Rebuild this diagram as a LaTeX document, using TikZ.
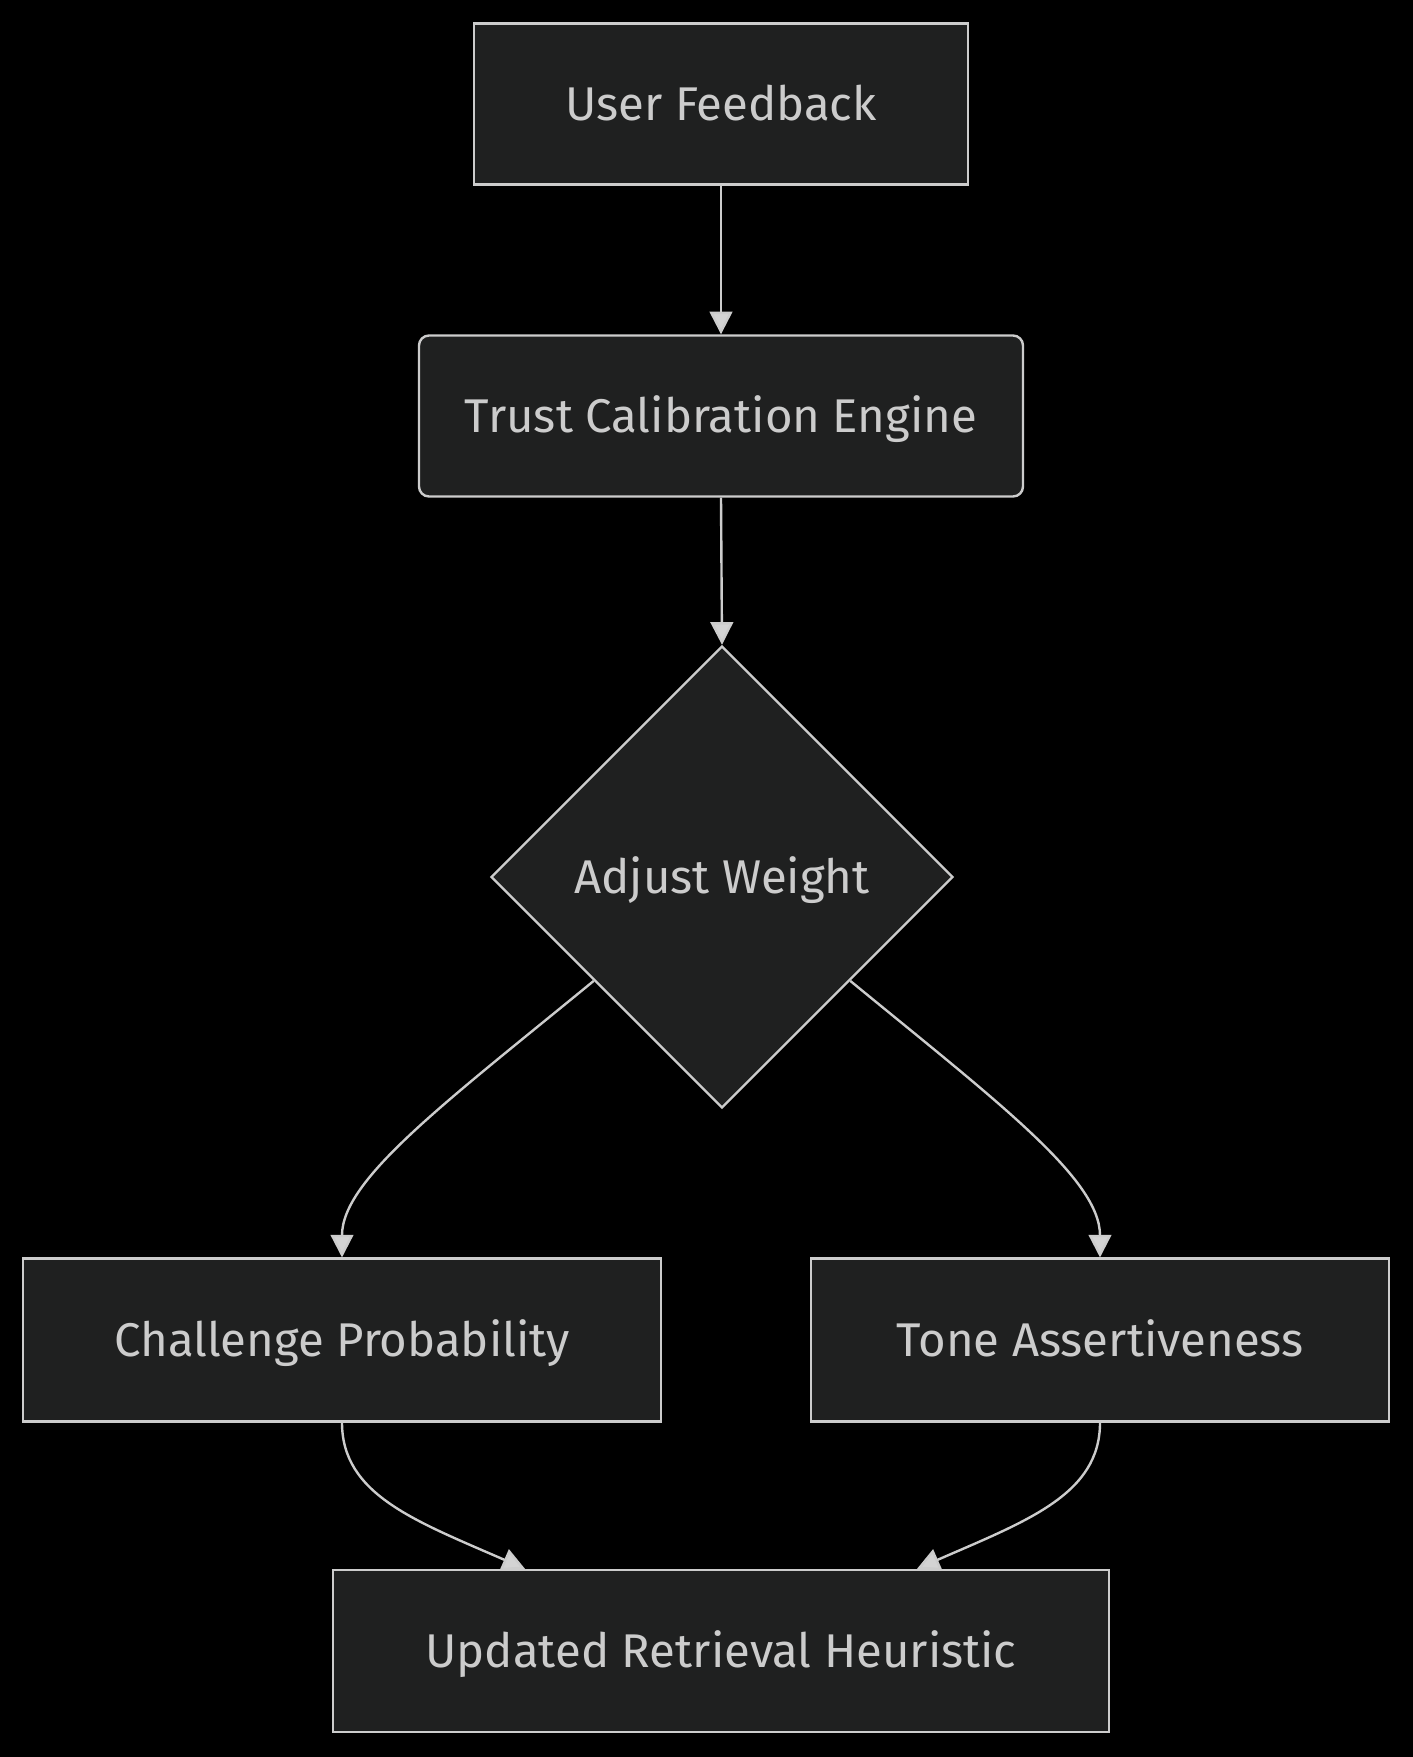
\documentclass[tikz,border=0pt]{standalone}
\usepackage{fontspec}
\setmainfont{Fira Sans}
\usetikzlibrary{shapes.geometric,arrows.meta,calc}
\definecolor{nodefill}{HTML}{1F2020}
\definecolor{strk}{HTML}{CCCCCC}
\definecolor{arr}{HTML}{D3D3D3}
\begin{document}
\begin{tikzpicture}[x=0.75pt,y=-0.75pt,
  box/.style={draw=strk, line width=1.8pt, fill=nodefill, text=strk,
    font=\fontsize{35.5}{42}\selectfont, inner sep=0pt, text height=24.5pt, text depth=0pt},
  dec/.style={box, diamond, aspect=1, minimum width=346.5pt, minimum height=346.5pt},
  edge/.style={draw=strk, line width=1.8pt, -{Triangle[length=17pt,width=17pt,fill=arr]}}]
\useasboundingbox[fill=black] (0,0) rectangle (1413,1757);
\node[box, minimum width=370.5pt, minimum height=120.75pt] (uf) at (721,104) {User Feedback};
\node[box, rounded corners=7.5pt, minimum width=453pt, minimum height=120.75pt] (tce) at (721,416) {Trust Calibration Engine};
\node[dec] (aw) at (722,877) {Adjust Weight};
\node[box, minimum width=478.5pt, minimum height=122pt] (cp) at (342,1340) {Challenge Probability};
\node[box, minimum width=433.5pt, minimum height=122pt] (ta) at (1100,1340) {Tone Assertiveness};
\node[box, minimum width=582pt, minimum height=121.5pt] (urh) at (721,1651) {Updated Retrieval Heuristic};
\draw[edge] (uf.south) -- (tce.north);
\draw[edge] (tce.south) -- (aw.north);
\draw[edge] (aw.219) .. controls +(-150,123) and +(0,-78) .. (cp.north);
\draw[edge] (aw.321) .. controls +(150,123) and +(0,-78) .. (ta.north);
\coordinate (inL) at ($(urh.north)+(-196,0)$);
\coordinate (inR) at ($(urh.north)+(196,0)$);
\draw[edge] (cp.south) .. controls +(0,72) and +(-110,-48) .. (inL);
\draw[edge] (ta.south) .. controls +(0,72) and +(110,-48) .. (inR);
\end{tikzpicture}
\end{document}
